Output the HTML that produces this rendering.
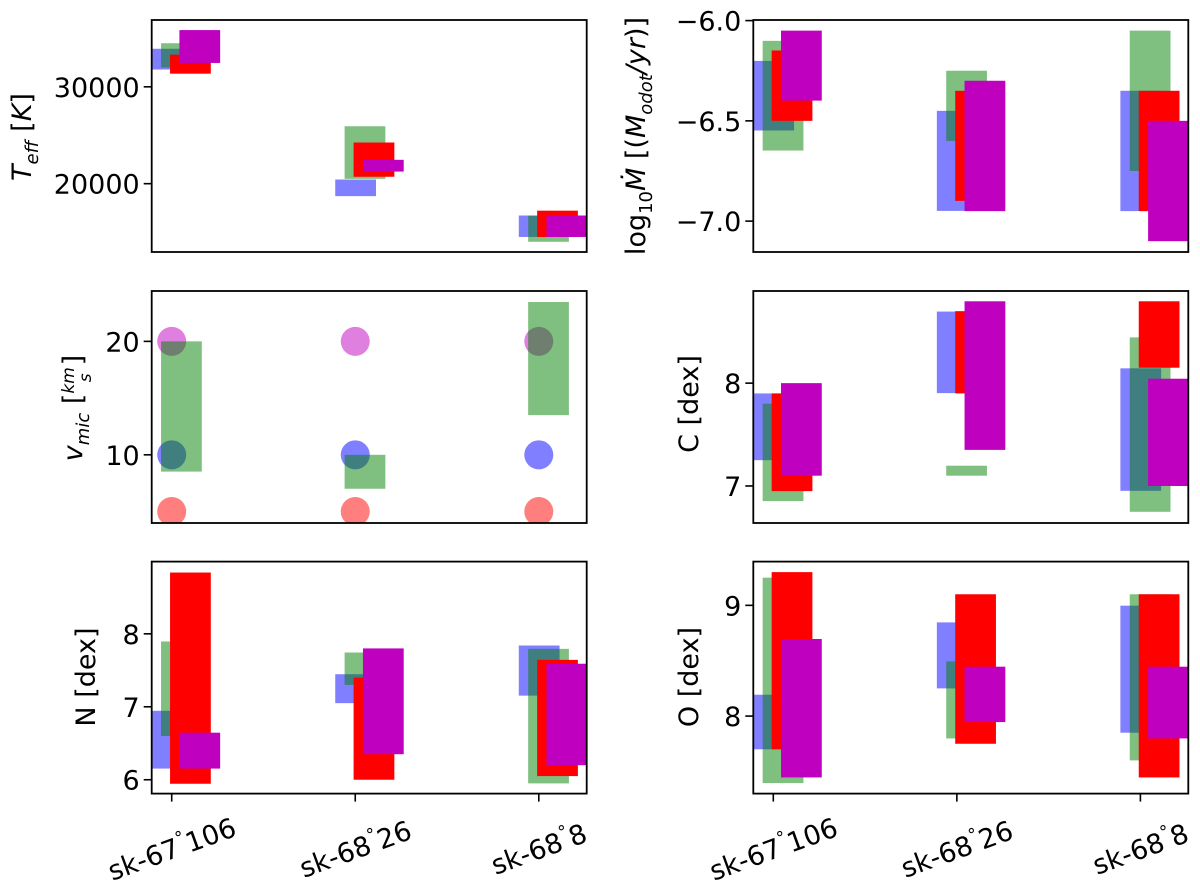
<!DOCTYPE html>
<html><head><meta charset="utf-8">
<style>
html,body{margin:0;padding:0;background:#fff;}
svg{display:block;font-family:"DejaVu Sans","Liberation Sans",sans-serif;}
</style></head>
<body>
<svg id="fig" width="1200" height="889" viewBox="0 0 1200 889" xmlns="http://www.w3.org/2000/svg">
<defs></defs>
</svg>
<script>
// ---- data ----
const categories = ["sk-67°106", "sk-68°26", "sk-68°8"];
const seriesNames = ["blue", "green", "red", "purple"];
const teffBlue   = [[33929,31786],[20429,18714],[16714,14500]];
const teffGreen  = [[34500,32000],[25929,20500],[16700,14000]];
const teffRed    = [[33321,31357],[24250,20714],[17214,14500]];
const teffPurple = [[35857,32464],[22464,21250],[16714,14500]];
const vmicGreen  = [[20,8.52],[10,7.01],[23.47,13.5]];
const vmicMagentaPts = [20,20,20];
const vmicBluePts    = [10,10,10];
const vmicRedPts     = [5,5,5];
const mdotBlue   = [[-6.201,-6.548],[-6.45,-6.949],[-6.35,-6.95]];
const mdotGreen  = [[-6.101,-6.648],[-6.25,-6.6],[-6.05,-6.75]];
const mdotRed    = [[-6.149,-6.5],[-6.35,-6.899],[-6.35,-6.95]];
const mdotPurple = [[-6.05,-6.399],[-6.30,-6.95],[-6.50,-7.10]];
const cBlue   = [[7.90,7.251],[8.696,7.903],[8.144,6.953]];
const cGreen  = [[7.80,6.853],[7.197,7.10],[8.445,6.749]];
const cRed    = [[7.90,6.95],[8.70,7.90],[8.796,8.15]];
const cPurple = [[8.0,7.10],[8.796,7.351],[8.043,7.0]];
const nBlue   = [[6.945,6.153],[7.446,7.05],[7.84,7.153]];
const nGreen  = [[7.895,6.6],[7.744,7.3],[7.794,5.95]];
const nRed    = [[8.84,5.945],[7.4,6.0],[7.643,6.05]];
const nPurple = [[6.645,6.153],[7.8,6.35],[7.59,6.2]];
const oBlue   = [[8.193,7.70],[8.846,8.25],[8.997,7.85]];
const oGreen  = [[9.25,7.395],[8.494,7.798],[9.10,7.60]];
const oRed    = [[9.30,7.70],[9.10,7.75],[9.10,7.446]];
const oPurple = [[8.696,7.446],[8.446,7.946],[8.446,7.798]];
const teffTicks = [20000, 30000];
const vmicTicks = [10, 20];
const mdotTicks = [-7.0, -6.5, -6.0];
const mdotTickLabels = ["\u22127.0", "\u22126.5", "\u22126.0"];
const cTicks = [7, 8];
const nTicks = [6, 7, 8];
const oTicks = [8, 9];

// ---- layout ----
const NS = "http://www.w3.org/2000/svg";
const svg = document.getElementById("fig");
const defs = svg.querySelector("defs");
const XMIN = -0.109, XMAX = 2.261;
const seriesFill = {blue:"rgba(0,0,255,0.5)", green:"rgba(0,128,0,0.5)", red:"#ff0000", purple:"#bf00bf"};
const seriesOffset = {blue:-0.109, green:-0.058, red:-0.009, purple:0.042};
const BARW = 0.222;
const FS = 27;

function mk(tag, attrs, parent){
  const e = document.createElementNS(NS, tag);
  for (const k in attrs) e.setAttribute(k, attrs[k]);
  (parent||svg).appendChild(e);
  return e;
}

function panel(id, x0, y0, w, h, ylim, ticks, tickLabels, bars, showX){
  const g = mk("g", {});
  
  
  const cp = mk("clipPath", {id:"clip-"+id}, defs);
  mk("rect", {x:x0, y:y0, width:w, height:h}, cp);
  const xs = v => x0 + (v - XMIN) / (XMAX - XMIN) * w;
  const ys = v => y0 + (ylim[1] - v) / (ylim[1] - ylim[0]) * h;
  const plot = mk("g", {"clip-path":"url(#clip-"+id+")"}, g);
  
  
  if (bars.circles){
    bars.circles.forEach(cs => {
      cs.vals.forEach((v, i) => {
        const c = mk("circle", {cx: xs(i), cy: ys(v), r: 14.5, fill: cs.fill}, plot);
        
        
      });
    });
  }
  seriesNames.forEach(s => {
    const arr = bars[s];
    if (!arr) return;
    arr.forEach((tb, i) => {
      if (!tb) return;
      const xl = xs(i + seriesOffset[s]);
      const xr = xs(i + seriesOffset[s] + BARW);
      const yt = ys(tb[0]), yb = ys(tb[1]);
      const r = mk("rect", {x: xl, y: yt, width: xr - xl, height: yb - yt, fill: seriesFill[s]}, plot);
      
      
    });
  });
  ticks.forEach((t, i) => {
    const y = ys(t);
    mk("line", {x1: x0 - 8, x2: x0, y1: y, y2: y, stroke: "#000", "stroke-width": 1.6}, g);
    const tx = mk("text", {x: x0 - 12, y: y + 10, "text-anchor": "end", "font-size": FS}, g);
    tx.textContent = tickLabels ? tickLabels[i] : String(t);
    
    
  });
  if (showX){
    categories.forEach((c, i) => {
      const x = xs(i);
      mk("line", {x1: x, x2: x, y1: y0 + h, y2: y0 + h + 8, stroke: "#000", "stroke-width": 1.6}, g);
      const cy = y0 + h + 55;
      const tx = mk("text", {x: x, y: cy + 10, "text-anchor": "middle", "font-size": FS, transform: "rotate(-20 " + x + " " + cy + ")"}, g);
      const p = c.split("°");
      const a = mk("tspan", {}, tx); a.textContent = p[0];
      const b = mk("tspan", {"font-size": 17, dy: -12}, tx); b.textContent = "°";
      const d = mk("tspan", {dy: 12}, tx); d.textContent = p[1];
      
      
    });
  }
  const fr = mk("rect", {x: x0, y: y0, width: w, height: h, fill: "none", stroke: "#000", "stroke-width": 1.8}, g);
  
  
  return g;
}

const LX = 151.7, RX = 753.3, W = 435, H = 232;
const T1 = 20, T2 = 291, T3 = 561.6;

panel("teff", LX, T1, W, H, [12947, 36898], teffTicks, null,
  {blue: teffBlue, green: teffGreen, red: teffRed, purple: teffPurple}, false);
panel("mdot", RX, T1, W, H, [-7.154, -5.997], mdotTicks, mdotTickLabels,
  {blue: mdotBlue, green: mdotGreen, red: mdotRed, purple: mdotPurple}, false);
panel("vmic", LX, T2, W, H, [3.99, 24.44], vmicTicks, null,
  {green: vmicGreen, circles: [
    {name: "magenta", vals: vmicMagentaPts, fill: "rgba(191,0,191,0.5)"},
    {name: "blue", vals: vmicBluePts, fill: "rgba(0,0,255,0.5)"},
    {name: "red", vals: vmicRedPts, fill: "rgba(255,0,0,0.5)"}]}, false);
panel("carbon", RX, T2, W, H, [6.64, 8.896], cTicks, null,
  {blue: cBlue, green: cGreen, red: cRed, purple: cPurple}, false);
panel("nitrogen", LX, T3, W, H, [5.81, 8.99], nTicks, null,
  {blue: nBlue, green: nGreen, red: nRed, purple: nPurple}, true);
panel("oxygen", RX, T3, W, H, [7.30, 9.395], oTicks, null,
  {blue: oBlue, green: oGreen, red: oRed, purple: oPurple}, true);
</script>
<script>
(function(){
  const svg = document.getElementById("fig");
  const NS = "http://www.w3.org/2000/svg";
  function label(name, cx, cy, html){
    const t = document.createElementNS(NS, "text");
    t.setAttribute("x", cx); t.setAttribute("y", cy);
    t.setAttribute("text-anchor", "middle");
    t.setAttribute("font-size", "27");
    t.setAttribute("transform", "rotate(-90 " + cx + " " + cy + ")");
    t.innerHTML = html;
    
    
    svg.appendChild(t);
  }
  label("teff-y-axis-title", 31, 137, '<tspan font-style="italic">T</tspan><tspan font-style="italic" font-size="18" dy="7">eff</tspan><tspan dy="-7"> [</tspan><tspan font-style="italic">K</tspan><tspan>]</tspan>');
  label("mdot-y-axis-title", 645, 136, '<tspan>log</tspan><tspan font-size="18" dy="7">10</tspan><tspan dy="-7" font-style="italic">Ṁ</tspan><tspan> [(</tspan><tspan font-style="italic">M</tspan><tspan font-style="italic" font-size="18" dy="7">odot</tspan><tspan dy="-7" font-style="italic">/yr</tspan><tspan>)]</tspan>');
  label("vmic-y-axis-title", 82, 408, '<tspan font-style="italic">v</tspan><tspan font-style="italic" font-size="18" dy="7">mic</tspan><tspan dy="-7"> [</tspan><tspan font-style="italic" font-size="17" dy="-8">km</tspan><tspan font-size="17" dx="-15" dy="17" font-style="italic">s</tspan><tspan dx="8" dy="-9">]</tspan>');
  label("carbon-y-axis-title", 698, 404, 'C [dex]');
  label("nitrogen-y-axis-title", 95, 677, 'N [dex]');
  label("oxygen-y-axis-title", 698, 677, 'O [dex]');
})();
</script>
</body></html>
